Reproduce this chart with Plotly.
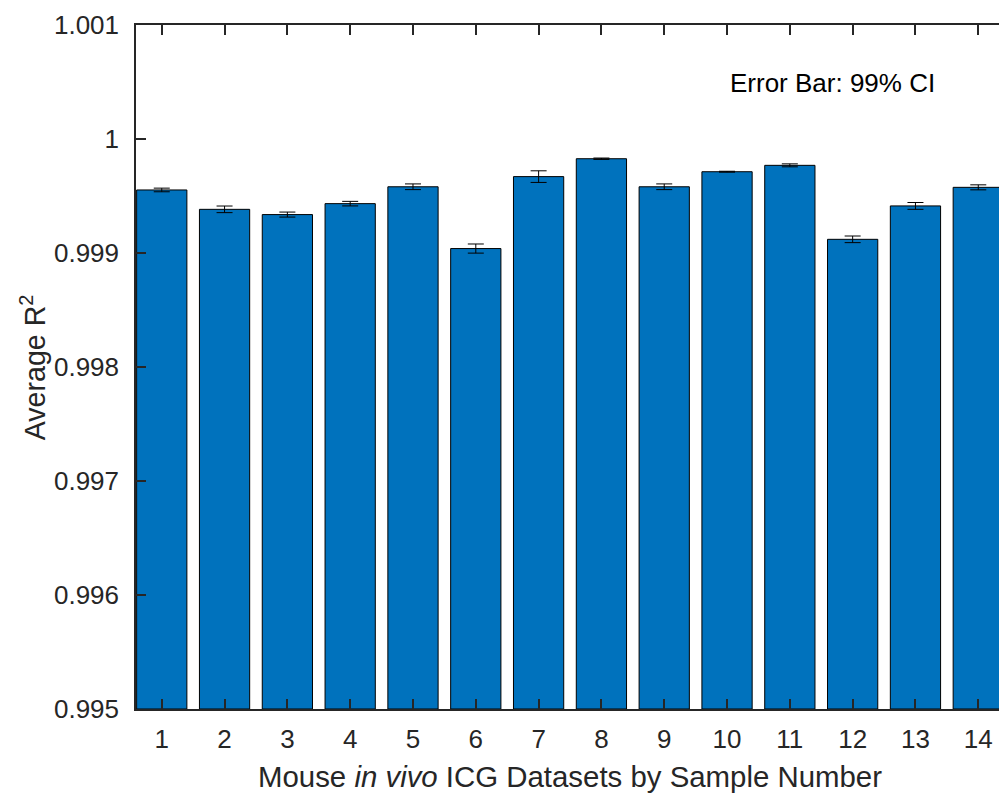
import plotly.graph_objects as go

samples = list(range(1, 15))
avg_r2 = [0.999553, 0.999383, 0.999337, 0.999433, 0.999581, 0.999039, 0.999670,
          0.999827, 0.999581, 0.999713, 0.999769, 0.999120, 0.999413, 0.999576]
ci99 = [0.000016, 0.000029, 0.000022, 0.000020, 0.000025, 0.000040, 0.000051,
        0.000006, 0.000025, 0.000004, 0.000013, 0.000029, 0.000030, 0.000022]
y_tickvals = [0.995, 0.996, 0.997, 0.998, 0.999, 1.0, 1.001]
y_ticktext = ["0.995", "0.996", "0.997", "0.998", "0.999", "1", "1.001"]
floor = 0.995

AX = "#262626"
FONT = "Liberation Sans, Arial, sans-serif"

fig = go.Figure()
fig.add_trace(go.Bar(
    x=samples, y=[v - floor for v in avg_r2], base=floor, width=0.8,
    marker=dict(color="#0072BD", line=dict(color="black", width=1)),
    error_y=dict(type="data", array=ci99, visible=True, color="black",
                 thickness=1, width=8),
    hoverinfo="skip",
))

fig.update_layout(
    width=999, height=794,
    margin=dict(l=136, r=0, t=25, b=85),
    paper_bgcolor="white", plot_bgcolor="white",
    showlegend=False,
    font=dict(family=FONT, size=26, color=AX),
)
fig.update_xaxes(
    range=[0.59, 14.33], tickvals=samples, ticktext=[str(s) for s in samples],
    ticks="inside", ticklen=10, tickwidth=1.5, tickcolor=AX,
    showline=True, linecolor=AX, linewidth=1.5, mirror="ticks",
    showgrid=False, zeroline=False, ticklabelstandoff=6,
    tickfont=dict(size=26, color=AX, family=FONT),
)
fig.update_yaxes(
    range=[0.995, 1.001], tickvals=y_tickvals, ticktext=y_ticktext,
    ticks="inside", ticklen=10, tickwidth=1.5, tickcolor=AX,
    showline=True, linecolor=AX, linewidth=1.5, mirror=False,
    showgrid=False, zeroline=False, ticklabelstandoff=10,
    tickfont=dict(size=26, color=AX, family=FONT),
)
fig.add_annotation(
    text="Mouse <i>in vivo</i> ICG Datasets by Sample Number",
    xref="paper", yref="paper", x=0.503, y=-0.098, xanchor="center", yanchor="middle",
    showarrow=False, font=dict(size=29.4, color=AX, family=FONT),
)
fig.add_annotation(
    text="Average R<sup>2</sup>",
    xref="paper", yref="paper", x=-0.119, y=0.5, xanchor="center", yanchor="middle",
    textangle=-90, showarrow=False, font=dict(size=28.6, color=AX, family=FONT),
)
fig.add_annotation(
    text="Error Bar: 99% CI",
    xref="paper", yref="paper", x=0.8065, y=0.9146, xanchor="center", yanchor="middle",
    showarrow=False, font=dict(size=26, color="black", family=FONT),
)
fig.write_html("out.html")
